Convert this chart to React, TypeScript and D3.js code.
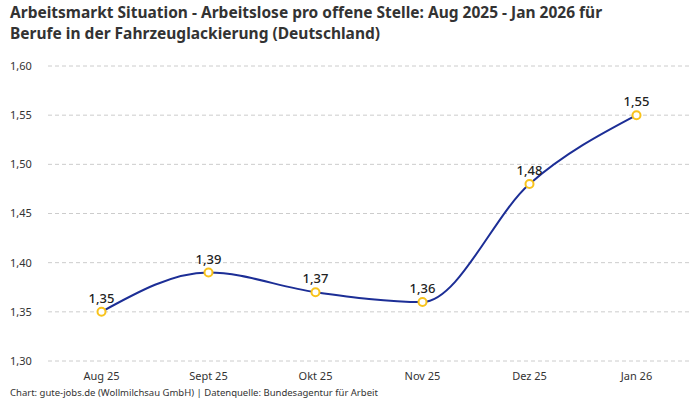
import React from 'react';
import * as d3 from 'd3';

const months = ['Aug 25', 'Sept 25', 'Okt 25', 'Nov 25', 'Dez 25', 'Jan 26'];
const values = [1.35, 1.39, 1.37, 1.36, 1.48, 1.55];
const yTicks = [1.3, 1.35, 1.4, 1.45, 1.5, 1.55, 1.6];

const W = 700;
const H = 400;
const MARGIN = { top: 66, right: 10, bottom: 39, left: 48 };
const FONT = "'Noto Sans', sans-serif";

const fmt = (v: number) => v.toFixed(2).replace('.', ',');

const App: React.FC = () => {
  const x = d3.scalePoint<string>()
    .domain(months)
    .range([MARGIN.left, W - MARGIN.right])
    .padding(0.5);

  const y = d3.scaleLinear()
    .domain([1.3, 1.6])
    .range([H - MARGIN.bottom, MARGIN.top]);

  const line = d3.line<number>()
    .x((_, i) => x(months[i])!)
    .y(d => y(d))
    .curve(d3.curveMonotoneX);

  return (
    <svg width={W} height={H} style={{ position: 'absolute', left: 0, top: 0, background: '#fff' }}>
      <text x={10} y={18} fontFamily={FONT} fontWeight={700} fontSize={15.5} fill="#333">
        Arbeitsmarkt Situation - Arbeitslose pro offene Stelle: Aug 2025 - Jan 2026 für
      </text>
      <text x={10} y={39} fontFamily={FONT} fontWeight={700} fontSize={15.5} fill="#333">
        Berufe in der Fahrzeuglackierung (Deutschland)
      </text>

      {/* Gitterlinien + y-Achse */}
      {yTicks.map(t => (
        <g key={t}>
          <line x1={MARGIN.left} x2={W - MARGIN.right} y1={y(t)} y2={y(t)}
            stroke="#ccc" strokeDasharray="4,3" />
          <text x={10} y={y(t)} dy="0.35em" fontFamily={FONT} fontSize={11} fill="#333">
            {fmt(t)}
          </text>
        </g>
      ))}

      {/* x-Achse */}
      {months.map(m => (
        <text key={m} x={x(m)} y={380} textAnchor="middle" fontFamily={FONT} fontSize={11} fill="#333">
          {m}
        </text>
      ))}

      <path d={line(values)!} fill="none" stroke="#1c2e96" strokeWidth={2} />

      {values.map((v, i) => (
        <g key={months[i]}>
          <circle cx={x(months[i])} cy={y(v)} r={4} fill="#fff" stroke="#f8c31c" strokeWidth={2} />
          <text x={x(months[i])} y={y(v) - 9} textAnchor="middle" fontFamily={FONT}
            fontWeight={500} fontSize={13} fill="#222">
            {fmt(v)}
          </text>
        </g>
      ))}

      <text x={10} y={396} fontFamily={FONT} fontSize={9.5} fill="#333">
        Chart: gute-jobs.de (Wollmilchsau GmbH) | Datenquelle: Bundesagentur für Arbeit
      </text>
    </svg>
  );
};

export default App;
